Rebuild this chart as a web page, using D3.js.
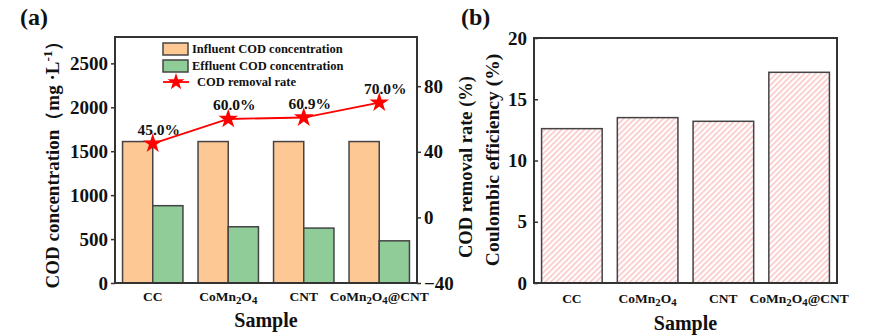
<!DOCTYPE html>
<html>
<head>
<meta charset="utf-8">
<script src="https://cdn.jsdelivr.net/npm/d3@7"></script>
<style>
body { margin: 0; background: #fff; }
text { font-family: "Liberation Serif", "Times New Roman", serif !important; font-weight: bold; fill: #111; }
</style>
</head>
<body>
<script>
// data
var samples = ['CC', 'CoMn2O4', 'CNT', 'CoMn2O4@CNT']
var influent = [1610, 1610, 1610, 1610]
var effluent = [880, 640, 625, 480]
var removal = [45.0, 60.0, 60.9, 70.0]
var coulombic = [12.6, 13.5, 13.2, 17.2]
var leftTicks = [0, 500, 1000, 1500, 2000, 2500]
var rightTicks = [-40, 0, 40, 80]
var cTicks = [0, 5, 10, 15, 20]

var body = d3.select('body')
var svg = body.append('svg')
	.attr('width', 887)
	.attr('height', 335)

var defs = svg.append('defs')
var pat = defs.append('pattern')
	.attr('id', 'hatch')
	.attr('patternUnits', 'userSpaceOnUse')
	.attr('width', 4)
	.attr('height', 4)
	.attr('patternTransform', 'rotate(45)')
pat.append('rect').attr('width', 4).attr('height', 4).attr('fill', '#fff')
pat.append('rect').attr('width', 1.6).attr('height', 4).attr('fill', '#fbc6c6')

var axisColor = '#333'
var barStroke = '#444'
var serif = '"Liberation Serif", "Times New Roman", serif'

// writes a sample name with subscripts
function sampleLabel(sel, name) {
	var parts = name.split(/(\d)/)
	parts.forEach(function(p) {
		if (p === '') return
		if (/\d/.test(p)) {
			sel.append('tspan').attr('font-size', '0.8em').attr('baseline-shift', '-25%').text(p)
		} else {
			sel.append('tspan').text(p)
		}
	})
}

// ---------- panel (a) ----------
var A = {left: 115, right: 417, top: 37, bottom: 283}
var xa = d3.scaleBand().domain(samples).range([A.left, A.right]).paddingInner(0.2).paddingOuter(0.1)
var xsub = d3.scaleBand().domain(['in', 'out']).range([0, xa.bandwidth()])
var ya = d3.scaleLinear().domain([0, 2800]).range([A.bottom, A.top])
var yr = d3.scaleLinear().domain([-40, 110]).range([A.bottom, A.top])

var ga = svg.append('g')

ga.selectAll('rect.in').data(influent).enter().append('rect')
	.attr('x', function(d, i) { return xa(samples[i]) + xsub('in') })
	.attr('y', function(d) { return ya(d) })
	.attr('width', xsub.bandwidth())
	.attr('height', function(d) { return ya(0) - ya(d) })
	.attr('fill', '#fec895')
	.attr('stroke', barStroke).attr('stroke-width', 1.5)

ga.selectAll('rect.out').data(effluent).enter().append('rect')
	.attr('x', function(d, i) { return xa(samples[i]) + xsub('out') })
	.attr('y', function(d) { return ya(d) })
	.attr('width', xsub.bandwidth())
	.attr('height', function(d) { return ya(0) - ya(d) })
	.attr('fill', '#8fcc97')
	.attr('stroke', barStroke).attr('stroke-width', 1.5)

// frame
ga.append('rect')
	.attr('x', A.left).attr('y', A.top)
	.attr('width', A.right - A.left).attr('height', A.bottom - A.top)
	.attr('fill', 'none').attr('stroke', axisColor).attr('stroke-width', 2)

var axL = ga.append('g').attr('transform', 'translate(' + A.left + ',0)')
	.call(d3.axisLeft(ya).tickValues(leftTicks).tickFormat(d3.format('d')).tickSize(4).tickPadding(3))
var axR = ga.append('g').attr('transform', 'translate(' + A.right + ',0)')
	.call(d3.axisRight(yr).tickValues(rightTicks).tickFormat(d3.format('d')).tickSize(4).tickPadding(3))
;[axL, axR].forEach(function(a) {
	a.attr('font-family', serif)
	a.select('.domain').remove()
	a.selectAll('line').attr('stroke', axisColor).attr('stroke-width', 1.5)
	a.selectAll('text').style('font-size', '19px').attr('fill', '#111')
})

// removal line
var line = d3.line()
	.x(function(d, i) { return xa(samples[i]) + xa.bandwidth() / 2 })
	.y(function(d) { return yr(d) })
ga.append('path').datum(removal)
	.attr('d', line).attr('fill', 'none').attr('stroke', '#f00').attr('stroke-width', 1.8)
var star = d3.symbol().type(d3.symbolStar).size(120)
ga.selectAll('path.star').data(removal).enter().append('path')
	.attr('d', star)
	.attr('fill', '#f00')
	.attr('transform', function(d, i) { return 'translate(' + (xa(samples[i]) + xa.bandwidth() / 2) + ',' + yr(d) + ')' })
ga.selectAll('text.rate').data(removal).enter().append('text')
	.attr('x', function(d, i) { return xa(samples[i]) + xa.bandwidth() / 2 + 6 })
	.attr('y', function(d) { return yr(d) - 9 })
	.attr('text-anchor', 'middle')
	.style('font-size', '15.5px')
	.text(function(d) { return d.toFixed(1) + '%' })

// x labels
ga.selectAll('text.xl').data(samples).enter().append('text')
	.attr('x', function(d) { return xa(d) + xa.bandwidth() / 2 })
	.attr('y', 301)
	.attr('text-anchor', 'middle')
	.style('font-size', '13.5px')
	.each(function(d) { sampleLabel(d3.select(this), d) })

ga.append('text').attr('x', (A.left + A.right) / 2).attr('y', 327)
	.attr('text-anchor', 'middle').style('font-size', '20px').text('Sample')

// legend
var leg = ga.append('g')
leg.append('rect').attr('x', 163).attr('y', 43).attr('width', 25).attr('height', 12)
	.attr('fill', '#fec895').attr('stroke', barStroke).attr('stroke-width', 1.5)
leg.append('rect').attr('x', 163).attr('y', 60).attr('width', 25).attr('height', 12)
	.attr('fill', '#8fcc97').attr('stroke', barStroke).attr('stroke-width', 1.5)
leg.append('line').attr('x1', 163).attr('x2', 189).attr('y1', 82).attr('y2', 82)
	.attr('stroke', '#f00').attr('stroke-width', 1.8)
leg.append('path').attr('d', d3.symbol().type(d3.symbolStar).size(90)).attr('fill', '#f00').attr('transform', 'translate(176,82)')
leg.append('text').attr('x', 192).attr('y', 53).style('font-size', '12.5px').text('Influent COD concentration')
leg.append('text').attr('x', 192).attr('y', 70).style('font-size', '12.5px').text('Effluent COD concentration')
leg.append('text').attr('x', 197).attr('y', 86).style('font-size', '12.5px').text('COD removal rate')

// axis titles
var tl = ga.append('text')
	.attr('transform', 'translate(59,160) rotate(-90)')
	.attr('text-anchor', 'middle').style('font-size', '19px')
tl.append('tspan').text('COD concentration（mg ·L')
tl.append('tspan').attr('baseline-shift', 'super').attr('font-size', '0.7em').text('-1')
tl.append('tspan').text('）')

ga.append('text')
	.attr('transform', 'translate(472,167) rotate(-90)')
	.attr('text-anchor', 'middle').style('font-size', '18.5px')
	.text('COD removal rate (%)')

svg.append('text').attr('x', 20).attr('y', 25).style('font-size', '24px').text('(a)')

// ---------- panel (b) ----------
var B = {left: 534, right: 837, top: 38, bottom: 283}
var xb = d3.scaleBand().domain(samples).range([B.left, B.right]).paddingInner(0.2).paddingOuter(0.1)
var yb = d3.scaleLinear().domain([0, 20]).range([B.bottom, B.top])
var gb = svg.append('g')

gb.selectAll('rect.c').data(coulombic).enter().append('rect')
	.attr('x', function(d, i) { return xb(samples[i]) })
	.attr('y', function(d) { return yb(d) })
	.attr('width', xb.bandwidth())
	.attr('height', function(d) { return yb(0) - yb(d) })
	.attr('fill', 'url(#hatch)')
	.attr('stroke', barStroke).attr('stroke-width', 1.5)

gb.append('rect')
	.attr('x', B.left).attr('y', B.top)
	.attr('width', B.right - B.left).attr('height', B.bottom - B.top)
	.attr('fill', 'none').attr('stroke', axisColor).attr('stroke-width', 2)

var axB = gb.append('g').attr('transform', 'translate(' + B.left + ',0)')
	.call(d3.axisLeft(yb).tickValues(cTicks).tickSize(-4).tickPadding(7))
axB.attr('font-family', serif)
axB.select('.domain').remove()
axB.selectAll('line').attr('stroke', axisColor).attr('stroke-width', 1.5)
axB.selectAll('text').style('font-size', '19px').attr('fill', '#111')

gb.selectAll('text.xl').data(samples).enter().append('text')
	.attr('x', function(d) { return xb(d) + xb.bandwidth() / 2 })
	.attr('y', 303)
	.attr('text-anchor', 'middle')
	.style('font-size', '13.5px')
	.each(function(d) { sampleLabel(d3.select(this), d) })

gb.append('text').attr('x', (B.left + B.right) / 2).attr('y', 330)
	.attr('text-anchor', 'middle').style('font-size', '20px').text('Sample')

gb.append('text')
	.attr('transform', 'translate(499,160) rotate(-90)')
	.attr('text-anchor', 'middle').style('font-size', '19.5px')
	.text('Coulombic efficiency (%)')

svg.append('text').attr('x', 461).attr('y', 25).style('font-size', '24px').text('(b)')
</script>
</body>
</html>
